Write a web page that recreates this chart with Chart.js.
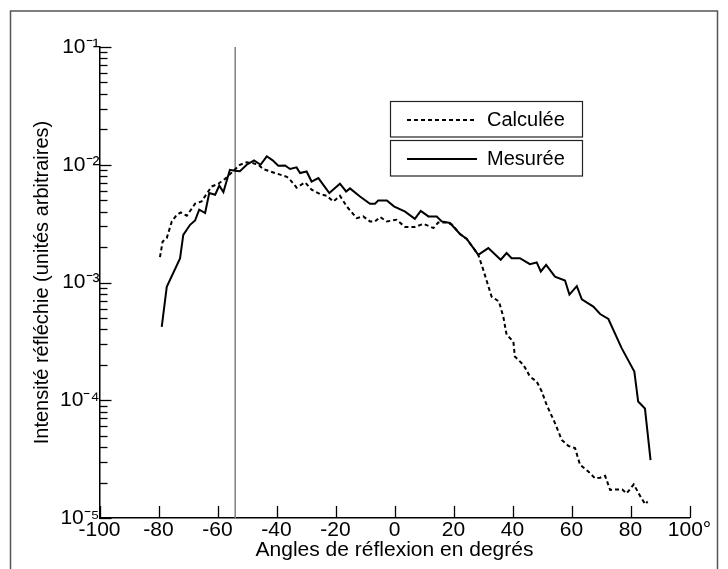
<!DOCTYPE html>
<html><head><meta charset="utf-8">
<script src="https://cdn.jsdelivr.net/npm/chart.js@4"></script>
<style>html,body{margin:0;padding:0;background:#fff}#wrap{width:728px;height:569px;position:relative}</style>
</head><body><div id="wrap"><canvas id="c" width="728" height="569"></canvas></div>
<script>
const seriesNames = ['Calculée', 'Mesurée'];
const xTitle = 'Angles de réflexion en degrés';
const yTitle = 'Intensité réfléchie (unités arbitraires)';

const calcAngles = [-79.5,-78.6,-77.2,-75.5,-73.8,-72.5,-70.4,-67.6,-65.4,-62.0,-59.7,-57.5,-54.8,-52.4,-50.1,-47.9,-46.2,-44.5,-41.1,-36.5,-35.4,-33.2,-30.3,-28.1,-25.3,-23.0,-20.7,-18.5,-16.2,-12.8,-10.6,-8.3,-6.6,-4.9,-2.6,0.7,3.6,6.9,9.8,13.2,14.8,17.7,19.5,22.2,24.5,28.4,30.1,32.9,35.4,36.9,38.0,40.3,40.8,43.7,45.9,48.2,49.9,51.6,54.4,56.7,58.9,61.2,62.9,65.7,68.0,69.7,71.4,73.1,75.5,77.2,78.7,81.1,83.5,85.0,85.8];
const calcValues = [1.64e-3,2.23e-3,2.38e-3,3.3e-3,3.76e-3,3.93e-3,3.69e-3,4.67e-3,4.88e-3,6.54e-3,6.9e-3,7.56e-3,8.77e-3,1.0e-2,1.05e-2,1.03e-2,1.0e-2,9.2e-3,8.6e-3,7.9e-3,7.47e-3,6.4e-3,7.08e-3,6.14e-3,5.64e-3,5.45e-3,4.88e-3,5.45e-3,4.43e-3,3.52e-3,3.64e-3,3.3e-3,3.3e-3,3.6e-3,3.3e-3,3.41e-3,2.96e-3,2.96e-3,3.15e-3,2.9e-3,3.23e-3,3.23e-3,3.1e-3,2.58e-3,2.34e-3,1.72e-3,1.28e-3,7.6e-4,6.9e-4,5.1e-4,3.6e-4,3.15e-4,2.35e-4,2.0e-4,1.59e-4,1.44e-4,1.19e-4,9.1e-5,6.4e-5,4.6e-5,4.1e-5,3.92e-5,2.83e-5,2.48e-5,2.17e-5,2.2e-5,2.28e-5,1.73e-5,1.75e-5,1.75e-5,1.62e-5,1.93e-5,1.5e-5,1.31e-5,1.38e-5];

const mesAngles = [-78.9,-77.2,-72.7,-71.6,-69.3,-67.6,-66.2,-64.2,-62.8,-60.8,-59.4,-58.0,-55.8,-54.1,-52.4,-50.1,-47.6,-45.4,-43.3,-41.3,-39.4,-37.1,-35.4,-33.2,-32.0,-29.8,-28.1,-25.8,-22.1,-18.5,-16.4,-15.1,-11.7,-8.3,-6.6,-5.5,-2.6,-0.2,3.6,6.9,8.9,11.5,14.3,16.0,18.8,22.2,24.5,28.4,31.8,36.0,38.0,39.7,42.5,45.9,48.2,49.6,51.4,54.4,57.8,59.3,61.8,63.5,67.4,69.7,72.5,77.0,81.3,82.6,84.9,86.8];
const mesValues = [4.2e-4,9.2e-4,1.6e-3,2.54e-3,3.09e-3,3.36e-3,4.15e-3,3.89e-3,5.75e-3,5.56e-3,6.64e-3,5.86e-3,9.06e-3,8.9e-3,8.8e-3,1.0e-2,1.09e-2,1.0e-2,1.18e-2,1.09e-2,9.8e-3,9.87e-3,9.2e-3,9.5e-3,8.5e-3,8.77e-3,7.2e-3,7.7e-3,5.75e-3,6.9e-3,5.93e-3,6.3e-3,5.37e-3,4.66e-3,4.66e-3,4.98e-3,4.98e-3,4.43e-3,4.0e-3,3.47e-3,4.06e-3,3.64e-3,3.64e-3,3.3e-3,3.2e-3,2.58e-3,2.34e-3,1.72e-3,1.96e-3,1.56e-3,1.78e-3,1.61e-3,1.61e-3,1.43e-3,1.48e-3,1.24e-3,1.41e-3,1.12e-3,1.04e-3,7.9e-4,9.3e-4,7.2e-4,6.25e-4,5.4e-4,4.9e-4,2.77e-4,1.75e-4,9.75e-5,8.5e-5,3.1e-5];

const markerAngle = -54;
const markerRange = [1e-1, 1e-5];

const xTickValues = [-100,-80,-60,-40,-20,0,20,40,60,80,100];
const xTickLabels = ['-100','-80','-60','-40','-20','0','20','40','60','80','100°'];
const yTickValues = [1e-1,1e-2,1e-3,1e-4,1e-5];
const yTickLabels = ['10⁻¹','10⁻²','10⁻³','10⁻⁴','10⁻⁵'];

const FONT = "'Liberation Sans', Arial, Helvetica, sans-serif";
const toPts = (xs, ys) => xs.map((x, i) => ({x, y: ys[i]}));

const framePlugin = {
  id: 'frame',
  beforeDraw(chart) {
    const ctx = chart.ctx;
    ctx.save();
    ctx.fillStyle = '#fff';
    ctx.fillRect(0, 0, chart.width, chart.height);
    ctx.strokeStyle = '#555';
    ctx.lineWidth = 1.5;
    ctx.strokeRect(10.5, 11, 707, 620);
    ctx.restore();
  }
};

const tickMarksPlugin = {
  id: 'tickMarks',
  afterDraw(chart) {
    const ctx = chart.ctx, ca = chart.chartArea;
    const xs = chart.scales.x, ys = chart.scales.y;
    ctx.save();
    ctx.strokeStyle = '#000';
    ctx.lineWidth = 1.3;
    ys.ticks.forEach(t => {
      const y = Math.round(ys.getPixelForValue(t.value)) + 0.5;
      const major = yTickValues.some(v => Math.abs(Math.log10(v) - Math.log10(t.value)) < 1e-6);
      const len = major ? 12 : 8;
      ctx.beginPath(); ctx.moveTo(ca.left, y); ctx.lineTo(ca.left + len, y); ctx.stroke();
    });
    xs.ticks.forEach(t => {
      const x = Math.round(xs.getPixelForValue(t.value)) + 0.5;
      ctx.beginPath(); ctx.moveTo(x, ca.bottom); ctx.lineTo(x, ca.bottom - 12); ctx.stroke();
    });
    ctx.restore();
  }
};

const legendPlugin = {
  id: 'boxLegend',
  afterDatasetsDraw(chart) {
    const ctx = chart.ctx;
    const boxes = [{top: 101.5}, {top: 140.5}];
    ctx.save();
    boxes.forEach((b, i) => {
      const ds = chart.data.datasets[i];
      ctx.strokeStyle = '#222';
      ctx.lineWidth = 1.2;
      ctx.fillStyle = '#fff';
      ctx.fillRect(390.5, b.top, 192, 35.5);
      ctx.strokeRect(390.5, b.top, 192, 35.5);
      const cy = b.top + 18.5;
      ctx.strokeStyle = '#000';
      ctx.lineWidth = 2;
      ctx.setLineDash(ds.borderDash || []);
      ctx.beginPath(); ctx.moveTo(407, cy); ctx.lineTo(477, cy); ctx.stroke();
      ctx.setLineDash([]);
      ctx.fillStyle = '#000';
      ctx.font = '20px ' + FONT;
      ctx.textBaseline = 'middle';
      ctx.textAlign = 'left';
      ctx.fillText(ds.label, 487, cy);
    });
    ctx.restore();
  }
};

new Chart(document.getElementById('c'), {
  type: 'line',
  data: {
    datasets: [
      {label: seriesNames[0], data: toPts(calcAngles, calcValues), borderColor: '#000', borderWidth: 2, borderDash: [4, 3], pointRadius: 0, tension: 0, fill: false},
      {label: seriesNames[1], data: toPts(mesAngles, mesValues), borderColor: '#000', borderWidth: 2, pointRadius: 0, tension: 0, fill: false},
      {label: 'marker', data: [{x: markerAngle, y: markerRange[0]}, {x: markerAngle, y: markerRange[1]}], borderColor: '#808080', borderWidth: 1.5, pointRadius: 0, fill: false}
    ]
  },
  options: {
    responsive: false,
    animation: false,
    devicePixelRatio: 1,
    layout: {padding: {left: 0, top: 47, right: 38.5, bottom: 0}},
    plugins: {legend: {display: false}, tooltip: {enabled: false}},
    scales: {
      x: {
        type: 'linear', min: -100, max: 100,
        afterBuildTicks: s => { s.ticks = xTickValues.map(v => ({value: v})); },
        afterFit: s => { s.height = 51; },
        ticks: {
          autoSkip: false, maxRotation: 0, padding: 0, color: '#000',
          font: {family: FONT, size: 21},
          callback: v => { const i = xTickValues.indexOf(v); return i >= 0 ? xTickLabels[i] : ''; }
        },
        grid: {drawOnChartArea: false, drawTicks: false},
        border: {display: true, color: '#000', width: 1.5},
        title: {display: true, text: xTitle, color: '#000', font: {family: FONT, size: 21}, padding: {top: 0, bottom: 6}}
      },
      y: {
        type: 'logarithmic', min: 1e-5, max: 1e-1,
        afterBuildTicks: s => {
          const t = [];
          for (let e = -5; e <= -1; e++) {
            for (let m = 1; m <= 9; m++) {
              const v = m * Math.pow(10, e);
              if (v <= 1e-1 * 1.0000001) t.push({value: v});
            }
          }
          s.ticks = t;
        },
        afterFit: s => { s.width = 99.5; },
        ticks: {
          autoSkip: false, padding: 0, color: '#000',
          font: {family: FONT, size: 21},
          callback: v => {
            const i = yTickValues.findIndex(u => Math.abs(Math.log10(u) - Math.log10(v)) < 1e-6);
            return i >= 0 ? yTickLabels[i] : '';
          }
        },
        grid: {drawOnChartArea: false, drawTicks: false},
        border: {display: true, color: '#000', width: 1.5},
        title: {display: true, text: yTitle, color: '#000', font: {family: FONT, size: 20}, padding: {top: 30, bottom: 0}}
      }
    }
  },
  plugins: [framePlugin, tickMarksPlugin, legendPlugin]
});
</script>
</body></html>
